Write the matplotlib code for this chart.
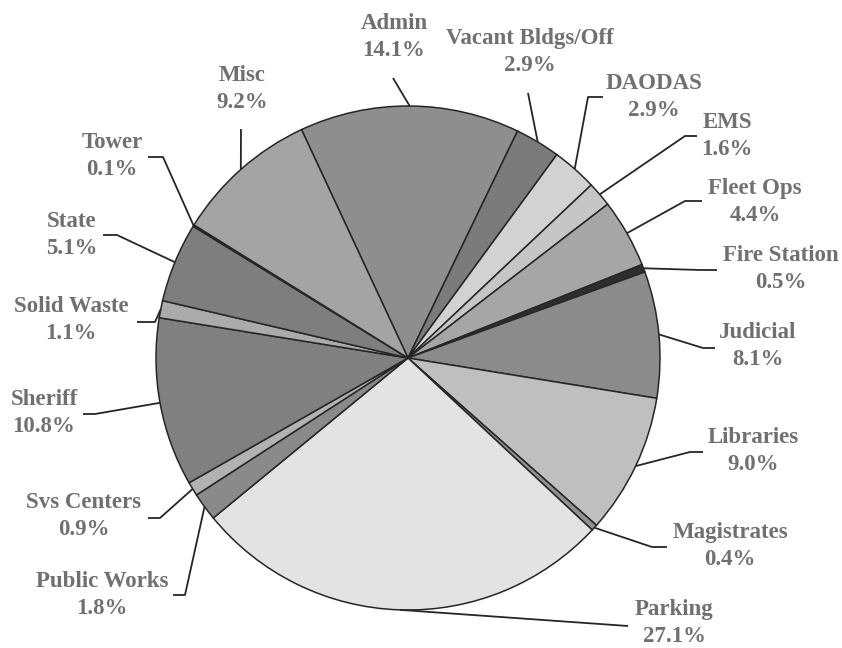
import matplotlib
matplotlib.use("Agg")
import matplotlib.pyplot as plt
import numpy as np

# ---- data ----
categories = ["Admin", "Vacant Bldgs/Off", "DAODAS", "EMS", "Fleet Ops",
              "Fire Station", "Judicial", "Libraries", "Magistrates", "Parking",
              "Public Works", "Svs Centers", "Sheriff", "Solid Waste", "State",
              "Tower", "Misc"]
values = [14.1, 2.9, 2.9, 1.6, 4.4, 0.5, 8.1, 9.0, 0.4, 27.1,
          1.8, 0.9, 10.8, 1.1, 5.1, 0.1, 9.2]
colors = ["#8e8e8e", "#7b7b7b", "#d2d2d2", "#c6c6c6", "#a6a6a6",
          "#2e2e2e", "#8b8b8b", "#bfbfbf", "#929292", "#e3e3e3",
          "#8a8a8a", "#b2b2b2", "#808080", "#ababab", "#7e7e7e",
          "#555555", "#a4a4a4"]

# ---- layout (pixel coords, y down) ----
W, H = 842, 648
CX, CY, R = 408, 358, 252
label_pos = {
    "Admin": (394, 37), "Vacant Bldgs/Off": (530, 52), "DAODAS": (654, 97),
    "EMS": (727, 136), "Fleet Ops": (755, 202), "Fire Station": (781, 269),
    "Judicial": (758, 346), "Libraries": (753, 451), "Magistrates": (730, 546),
    "Parking": (674, 623), "Public Works": (102, 595), "Svs Centers": (84, 516),
    "Sheriff": (44, 413), "Solid Waste": (71, 320), "State": (72, 235),
    "Tower": (112, 156), "Misc": (242, 89),
}
leader_pts = {
    "Admin": [(393, 78)], "Vacant Bldgs/Off": [(528, 93)],
    "DAODAS": [(588, 97), (603, 97)], "EMS": [(685, 136), (697, 136)],
    "Fleet Ops": [(685, 201), (702, 201)], "Fire Station": [(700, 270), (717, 270)],
    "Judicial": [(703, 348), (715, 348)], "Libraries": [(690, 452), (703, 452)],
    "Magistrates": [(652, 547), (667, 547)], "Parking": [(628, 626)],
    "Public Works": [(185, 595), (173, 595)], "Svs Centers": [(160, 518), (148, 518)],
    "Sheriff": [(95, 414), (83, 414)], "Solid Waste": [(155, 322), (137, 322)],
    "State": [(117, 235), (103, 235)], "Tower": [(163, 157), (148, 157)],
    "Misc": [(241, 129)],
}

def P(x, y):
    return x, H - y

fig = plt.figure(figsize=(W / 100, H / 100), dpi=100)
ax = fig.add_axes([0, 0, 1, 1])
wedges, _ = ax.pie(values, colors=colors, startangle=115, counterclock=False,
                   center=P(CX, CY), radius=R,
                   wedgeprops=dict(edgecolor="#262626", linewidth=1.1))
ax.set_xlim(0, W)
ax.set_ylim(0, H)
ax.set_aspect("equal")
ax.axis("off")

for w, cat, val in zip(wedges, categories, values):
    mid = np.deg2rad((w.theta1 + w.theta2) / 2)
    ax_x = CX + R * np.cos(mid)
    ax_y = CY - R * np.sin(mid)
    pts = [(ax_x, ax_y)] + leader_pts[cat]
    xs = [p[0] for p in pts]
    ys = [H - p[1] for p in pts]
    ax.plot(xs, ys, color="#262626", lw=1.3, solid_capstyle="butt", zorder=3)
    lx, ly = label_pos[cat]
    ax.text(*P(lx, ly), f"{cat}\n{val:.1f}%", ha="center", va="center",
            family="Liberation Serif", fontweight="bold", fontsize=16.5,
            color="#707070", linespacing=1.38)

fig.savefig("out.png", dpi=100)
